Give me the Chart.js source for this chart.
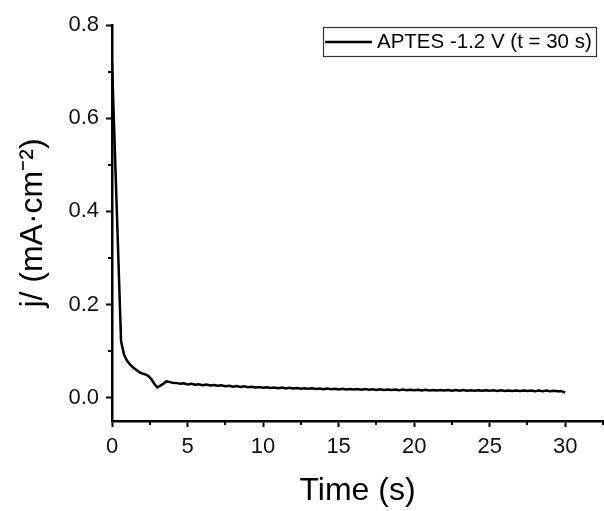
<!DOCTYPE html>
<html>
<head>
<meta charset="utf-8">
<script src="https://cdn.jsdelivr.net/npm/chart.js@4.4.1/dist/chart.umd.min.js"></script>
<style>
  html, body { margin: 0; padding: 0; background: #fff; }
  canvas { display: block; }
</style>
</head>
<body>
<canvas id="c" width="604" height="511"></canvas>
<script>
// ---- data ----
const seriesLabel = 'APTES -1.2 V (t = 30 s)';
const xTitle = 'Time (s)';
const yTitle = 'j/ (mA\u00B7cm\u207B\u00B2)';
const xTicks = [0, 5, 10, 15, 20, 25, 30];
const xMinorTicks = [2.5, 7.5, 12.5, 17.5, 22.5, 27.5, 32.5];
const yTicks = [0.0, 0.2, 0.4, 0.6, 0.8];
const yMinorTicks = [0.1, 0.3, 0.5, 0.7];
const times = [
  0, 0.3, 0.6, 0.8, 1.0, 1.2, 1.4, 1.6, 1.8, 2.0, 2.2, 2.4, 2.6, 2.8, 3.0, 3.2, 3.4, 3.6, 3.8, 4.0,
  4.25, 4.5, 4.75, 5.0, 5.25, 5.5, 5.75, 6.0, 6.25, 6.5, 6.75, 7.0, 7.25, 7.5, 7.75, 8.0,
  8.25, 8.5, 8.75, 9.0, 9.25, 9.5, 9.75, 10.0, 10.25, 10.5, 10.75, 11.0, 11.25, 11.5, 11.75, 12.0,
  12.25, 12.5, 12.75, 13.0, 13.25, 13.5, 13.75, 14.0, 14.25, 14.5, 14.75, 15.0, 15.25, 15.5, 15.75, 16.0,
  16.25, 16.5, 16.75, 17.0, 17.25, 17.5, 17.75, 18.0, 18.25, 18.5, 18.75, 19.0, 19.25, 19.5, 19.75, 20.0,
  20.25, 20.5, 20.75, 21.0, 21.25, 21.5, 21.75, 22.0, 22.25, 22.5, 22.75, 23.0, 23.25, 23.5, 23.75, 24.0,
  24.25, 24.5, 24.75, 25.0, 25.25, 25.5, 25.75, 26.0, 26.25, 26.5, 26.75, 27.0, 27.25, 27.5, 27.75, 28.0,
  28.25, 28.5, 28.75, 29.0, 29.25, 29.5, 29.75, 30.0
];
const current = [
  0.72, 0.42, 0.121, 0.092, 0.079, 0.071, 0.065, 0.060, 0.055, 0.052, 0.050, 0.047, 0.040, 0.030, 0.022, 0.026, 0.030, 0.035, 0.034, 0.032,
  0.0318, 0.0302, 0.0310, 0.0285, 0.0298, 0.0278, 0.0290, 0.0268, 0.0282, 0.0262, 0.0274, 0.0255, 0.0266, 0.0246, 0.0258, 0.0238,
  0.0250, 0.0231, 0.0243, 0.0225, 0.0237, 0.0219, 0.0230, 0.0212, 0.0224, 0.0208, 0.0220, 0.0204, 0.0216, 0.0200, 0.0212, 0.0196,
  0.0208, 0.0193, 0.0205, 0.0190, 0.0202, 0.0187, 0.0199, 0.0184, 0.0196, 0.0181, 0.0193, 0.0179, 0.0190, 0.0176, 0.0188, 0.0174,
  0.0186, 0.0172, 0.0184, 0.0170, 0.0182, 0.0168, 0.0180, 0.0166, 0.0178, 0.0164, 0.0176, 0.0162, 0.0174, 0.0160, 0.0172, 0.0158,
  0.0170, 0.0157, 0.0168, 0.0155, 0.0167, 0.0154, 0.0166, 0.0153, 0.0165, 0.0152, 0.0164, 0.0151, 0.0163, 0.0150, 0.0162, 0.0149,
  0.0161, 0.0148, 0.0160, 0.0147, 0.0159, 0.0146, 0.0158, 0.0145, 0.0157, 0.0144, 0.0156, 0.0143, 0.0155, 0.0142, 0.0154, 0.0141,
  0.0153, 0.0140, 0.0152, 0.0139, 0.0150, 0.0137, 0.0140, 0.0112
];

const FONT = '"Liberation Sans", Arial, sans-serif';

const decorPlugin = {
  id: 'decor',
  afterDraw(chart) {
    const ctx = chart.ctx;
    const xs = chart.scales.x, ys = chart.scales.y;
    const ca = chart.chartArea;
    ctx.save();
    // minor ticks
    ctx.strokeStyle = '#000';
    ctx.lineWidth = 2;
    ctx.beginPath();
    xMinorTicks.forEach(v => {
      const px = Math.round(xs.getPixelForValue(v));
      ctx.moveTo(px, ca.bottom);
      ctx.lineTo(px, ca.bottom + 4);
    });
    yMinorTicks.forEach(v => {
      const py = Math.round(ys.getPixelForValue(v));
      ctx.moveTo(ca.left, py);
      ctx.lineTo(ca.left - 4, py);
    });
    ctx.stroke();

    // axis titles
    ctx.fillStyle = '#000';
    ctx.font = '32px ' + FONT;
    ctx.textAlign = 'center';
    ctx.textBaseline = 'middle';
    ctx.fillText(xTitle, (ca.left + ca.right) / 2, 491);
    ctx.save();
    ctx.translate(33, (ca.top + ca.bottom) / 2);
    ctx.rotate(-Math.PI / 2);
    ctx.fillText(yTitle, 0, 0);
    ctx.restore();

    // legend box
    const bx = 323, by = 27, bw = 273, bh = 29;
    ctx.lineWidth = 1.2;
    ctx.strokeStyle = '#333';
    ctx.strokeRect(bx + 0.5, by + 0.5, bw, bh);
    ctx.strokeStyle = '#000';
    ctx.lineWidth = 2.5;
    ctx.beginPath();
    ctx.moveTo(bx + 2, by + bh / 2 + 0.5);
    ctx.lineTo(bx + 49, by + bh / 2 + 0.5);
    ctx.stroke();
    ctx.font = '20.5px ' + FONT;
    ctx.textAlign = 'left';
    ctx.fillText(seriesLabel, bx + 54, by + bh / 2 + 1);
    ctx.restore();
  }
};

new Chart(document.getElementById('c'), {
  type: 'line',
  data: {
    datasets: [{
      label: seriesLabel,
      data: times.map((t, i) => ({ x: t, y: current[i] })),
      borderColor: '#000',
      borderWidth: 2.5,
      pointRadius: 0,
      tension: 0,
      fill: false
    }]
  },
  options: {
    responsive: false,
    animation: false,
    layout: { padding: { top: 25, right: 1, left: 0, bottom: 0 } },
    plugins: { legend: { display: false }, tooltip: { enabled: false } },
    scales: {
      x: {
        type: 'linear',
        min: 0,
        max: 32.5,
        afterBuildTicks: s => { s.ticks = xTicks.map(v => ({ value: v })); },
        afterFit: s => { s.height = 90; },
        border: { display: true, color: '#000', width: 2.5 },
        grid: { display: true, drawOnChartArea: false, drawTicks: true, tickLength: 6, tickWidth: 2, tickColor: '#000' },
        ticks: { color: '#111', font: { family: FONT, size: 22 }, padding: 7, maxRotation: 0,
                 callback: v => String(v) }
      },
      y: {
        type: 'linear',
        min: -0.05,
        max: 0.8,
        afterBuildTicks: s => { s.ticks = yTicks.map(v => ({ value: v })); },
        afterFit: s => { s.width = 112; },
        border: { display: true, color: '#000', width: 2.5 },
        grid: { display: true, drawOnChartArea: false, drawTicks: true, tickLength: 6, tickWidth: 2, tickColor: '#000' },
        ticks: { color: '#111', font: { family: FONT, size: 22 }, padding: 7,
                 callback: v => Number(v).toFixed(1) }
      }
    }
  },
  plugins: [decorPlugin]
});
</script>
</body>
</html>
